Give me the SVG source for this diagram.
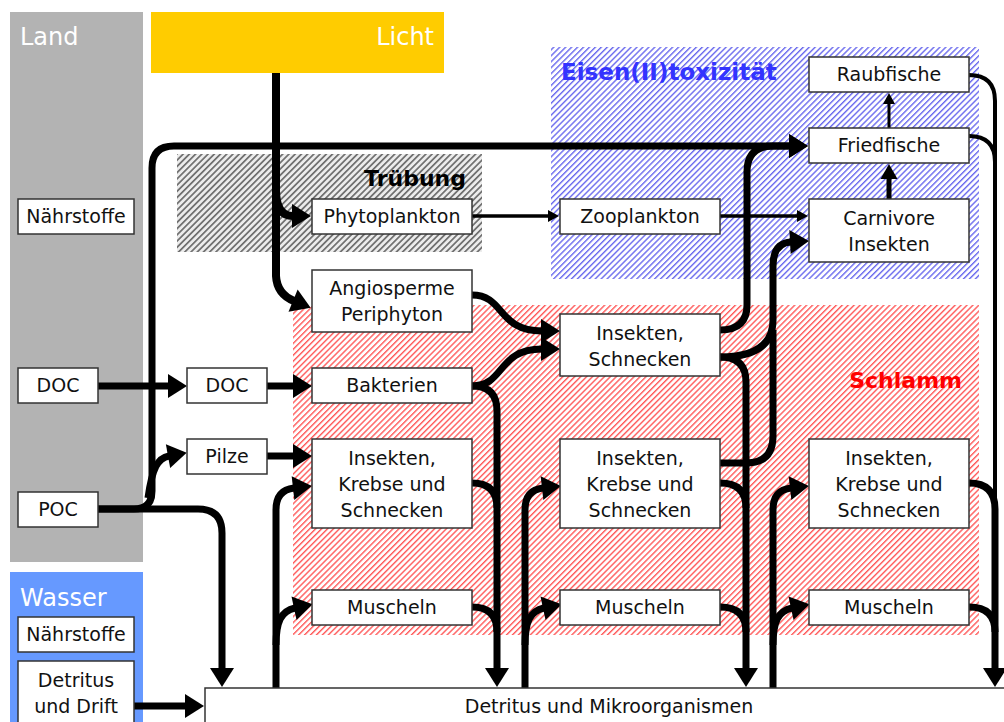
<svg xmlns="http://www.w3.org/2000/svg" width="1004" height="722" viewBox="0 0 1004 722">
<style>
.box{fill:#fff;stroke:#333;stroke-width:1.5}
.t{font-family:"DejaVu Sans","Liberation Sans",sans-serif;font-size:19px;fill:#111;text-anchor:middle}
.h{font-family:"DejaVu Sans","Liberation Sans",sans-serif;font-size:24px;fill:#fff}
.b{font-family:"DejaVu Sans","Liberation Sans",sans-serif;font-size:22px;font-weight:bold}
.k{fill:none;stroke:#000;stroke-width:7}
.n{fill:none;stroke:#000;stroke-width:3.5}
</style>
<defs>
<pattern id="pg" width="4.4" height="4.4" patternUnits="userSpaceOnUse" patternTransform="rotate(45)">
<rect width="4.4" height="4.4" fill="#ececec"/><rect width="1.7" height="4.4" fill="#6e6e6e"/>
</pattern>
<pattern id="pb" width="4.2" height="4.2" patternUnits="userSpaceOnUse" patternTransform="rotate(45)">
<rect width="4.2" height="4.2" fill="#fff"/><rect width="1.4" height="4.2" fill="#6a6aee"/>
</pattern>
<pattern id="pr" width="4.2" height="4.2" patternUnits="userSpaceOnUse" patternTransform="rotate(45)">
<rect width="4.2" height="4.2" fill="#fff"/><rect width="1.4" height="4.2" fill="#ff5a5a"/>
</pattern>
<marker id="a" markerUnits="userSpaceOnUse" markerWidth="19" markerHeight="24" refX="1" refY="12" orient="auto" overflow="visible">
<path d="M0,0 L19,12 L0,24 Z" fill="#000"/>
</marker>
<marker id="m" markerUnits="userSpaceOnUse" markerWidth="15" markerHeight="17" refX="1" refY="8.5" orient="auto" overflow="visible">
<path d="M0,0 L15,8.5 L0,17 Z" fill="#000"/>
</marker>
<marker id="s" markerUnits="userSpaceOnUse" markerWidth="11" markerHeight="12" refX="1" refY="6" orient="auto" overflow="visible">
<path d="M0,0 L11,6 L0,12 Z" fill="#000"/>
</marker>
</defs>

<g id="regions">
<rect x="10" y="12" width="133" height="550" fill="#b3b3b3"/>
<text class="h" x="20" y="45">Land</text>
<rect x="10" y="572" width="133" height="150" fill="#6699ff"/>
<text class="h" x="20" y="606">Wasser</text>
<rect x="151" y="12" width="293" height="61" fill="#ffcc00"/>
<text class="h" x="434" y="45" text-anchor="end">Licht</text>
<rect x="177" y="154" width="305" height="98" fill="url(#pg)"/>
<text class="b" x="466" y="186" text-anchor="end" fill="#000">Trübung</text>
<rect x="551" y="47" width="428" height="232" fill="url(#pb)"/>
<text class="b" x="561" y="80" fill="#3333ff" style="font-size:23px">Eisen(II)toxizität</text>
<rect x="293" y="305" width="686" height="330" fill="url(#pr)"/>
<text class="b" x="962" y="388" text-anchor="end" fill="#ff0000">Schlamm</text>
</g>

<g id="connectors">
<path class="k" style="stroke-width:8" d="M276,73 V190 Q276,216 293,216" marker-end="url(#a)"/>
<path class="k" style="stroke-width:8" d="M276,188 V276 Q277,294 294,301" marker-end="url(#a)"/>
<path class="k" d="M98,509 H134 Q152,509 152,491 V168 Q152,146 174,146 H790" marker-end="url(#a)"/>
<path class="k" d="M98,509 H198 Q222,509 222,533 V669" marker-end="url(#a)"/>
<path class="k" d="M148,498 C152,468 158,458 169,456" marker-end="url(#a)"/>
<path class="k" d="M134,706 H186" marker-end="url(#a)"/>
<path class="k" d="M98,386 H169" marker-end="url(#a)"/>
<path class="k" d="M267,386 H294" marker-end="url(#a)"/>
<path class="k" d="M267,456 H294" marker-end="url(#a)"/>
<path class="n" d="M472,216 H549" marker-end="url(#s)"/>
<path class="n" d="M720,216 H798" marker-end="url(#s)"/>
<path class="k" d="M472,295 C505,295 497,331 542,331" marker-end="url(#a)"/>
<path class="k" d="M472,386 C505,386 497,349 542,349" marker-end="url(#a)"/>
<path class="k" d="M472,386 Q497,386 497,411 V669" marker-end="url(#a)"/>
<path class="k" d="M472,483 Q497,483 497,508"/>
<path class="k" d="M472,607 Q497,607 497,632"/>
<path class="k" d="M276,688 V510 Q276,490 294,488" marker-end="url(#a)"/>
<path class="k" d="M276,645 C276,622 281,611 295,608" marker-end="url(#a)"/>
<path class="k" d="M525,688 V510 Q525,490 543,488" marker-end="url(#a)"/>
<path class="k" d="M525,645 C525,622 530,611 544,608" marker-end="url(#a)"/>
<path class="k" d="M773,688 V510 Q773,490 791,488" marker-end="url(#a)"/>
<path class="k" d="M773,645 C773,622 778,611 792,608" marker-end="url(#a)"/>
<path class="k" d="M720,330 Q747,330 747,305 V172 Q747,146 773,146 H790" marker-end="url(#a)"/>
<path class="k" d="M720,357 Q773,357 773,320 V266 Q773,243 791,242" marker-end="url(#a)"/>
<path class="k" d="M720,463 H746 Q773,463 773,436 V330"/>
<path class="k" d="M720,357 Q746,357 746,382 V669" marker-end="url(#a)"/>
<path class="k" d="M720,483 Q746,483 746,508"/>
<path class="k" d="M720,607 Q746,607 746,632"/>
<path class="n" style="stroke-width:4" d="M969,75 Q995,75 995,101 V500"/>
<path class="n" style="stroke-width:4" d="M969,136 Q995,136 995,162"/>
<path class="k" d="M969,483 Q995,483 995,509 V669" marker-end="url(#a)"/>
<path class="k" d="M969,607 Q995,607 995,632"/>
<path class="n" style="stroke-width:3" d="M889,128 V103" marker-end="url(#s)"/>
<path class="k" style="stroke-width:5" d="M889,199 V178" marker-end="url(#m)"/>
</g>

<g id="n-land-naehrstoffe"><rect class="box" x="18" y="199" width="116" height="35"/><text class="t" x="76" y="223">Nährstoffe</text></g>
<g id="n-land-doc"><rect class="box" x="18" y="368" width="80" height="35"/><text class="t" x="58" y="392">DOC</text></g>
<g id="n-poc"><rect class="box" x="18" y="492" width="80" height="35"/><text class="t" x="58" y="516">POC</text></g>
<g id="n-wasser-naehrstoffe"><rect class="box" x="18" y="617" width="116" height="35"/><text class="t" x="76" y="641">Nährstoffe</text></g>
<g id="n-detritus-drift"><rect class="box" x="18" y="661" width="116" height="70"/><text class="t" x="76" y="687">Detritus</text><text class="t" x="76" y="713">und Drift</text></g>
<g id="n-detritus"><rect class="box" x="205" y="688" width="805" height="40"/><text class="t" x="609" y="713">Detritus und Mikroorganismen</text></g>
<g id="n-doc"><rect class="box" x="187" y="368" width="80" height="35"/><text class="t" x="227" y="392">DOC</text></g>
<g id="n-pilze"><rect class="box" x="187" y="439" width="80" height="35"/><text class="t" x="227" y="463">Pilze</text></g>
<g id="n-phyto"><rect class="box" x="312" y="199" width="160" height="35"/><text class="t" x="392" y="223">Phytoplankton</text></g>
<g id="n-angio"><rect class="box" x="312" y="270" width="160" height="62"/><text class="t" x="392" y="295">Angiosperme</text><text class="t" x="392" y="321">Periphyton</text></g>
<g id="n-bakt"><rect class="box" x="312" y="368" width="160" height="35"/><text class="t" x="392" y="392">Bakterien</text></g>
<g id="n-iks1"><rect class="box" x="312" y="439" width="160" height="89"/><text class="t" x="392" y="465">Insekten,</text><text class="t" x="392" y="491">Krebse und</text><text class="t" x="392" y="517">Schnecken</text></g>
<g id="n-mus1"><rect class="box" x="312" y="590" width="160" height="35"/><text class="t" x="392" y="614">Muscheln</text></g>
<g id="n-zoo"><rect class="box" x="560" y="199" width="160" height="35"/><text class="t" x="640" y="223">Zooplankton</text></g>
<g id="n-is2"><rect class="box" x="560" y="314" width="160" height="62"/><text class="t" x="640" y="340">Insekten,</text><text class="t" x="640" y="366">Schnecken</text></g>
<g id="n-iks2"><rect class="box" x="560" y="439" width="160" height="89"/><text class="t" x="640" y="465">Insekten,</text><text class="t" x="640" y="491">Krebse und</text><text class="t" x="640" y="517">Schnecken</text></g>
<g id="n-mus2"><rect class="box" x="560" y="590" width="160" height="35"/><text class="t" x="640" y="614">Muscheln</text></g>
<g id="n-raub"><rect class="box" x="809" y="57" width="160" height="35"/><text class="t" x="889" y="81">Raubfische</text></g>
<g id="n-fried"><rect class="box" x="809" y="128" width="160" height="35"/><text class="t" x="889" y="152">Friedfische</text></g>
<g id="n-carn"><rect class="box" x="809" y="199" width="160" height="63"/><text class="t" x="889" y="225">Carnivore</text><text class="t" x="889" y="251">Insekten</text></g>
<g id="n-iks3"><rect class="box" x="809" y="439" width="160" height="89"/><text class="t" x="889" y="465">Insekten,</text><text class="t" x="889" y="491">Krebse und</text><text class="t" x="889" y="517">Schnecken</text></g>
<g id="n-mus3"><rect class="box" x="809" y="590" width="160" height="35"/><text class="t" x="889" y="614">Muscheln</text></g>
</svg>
